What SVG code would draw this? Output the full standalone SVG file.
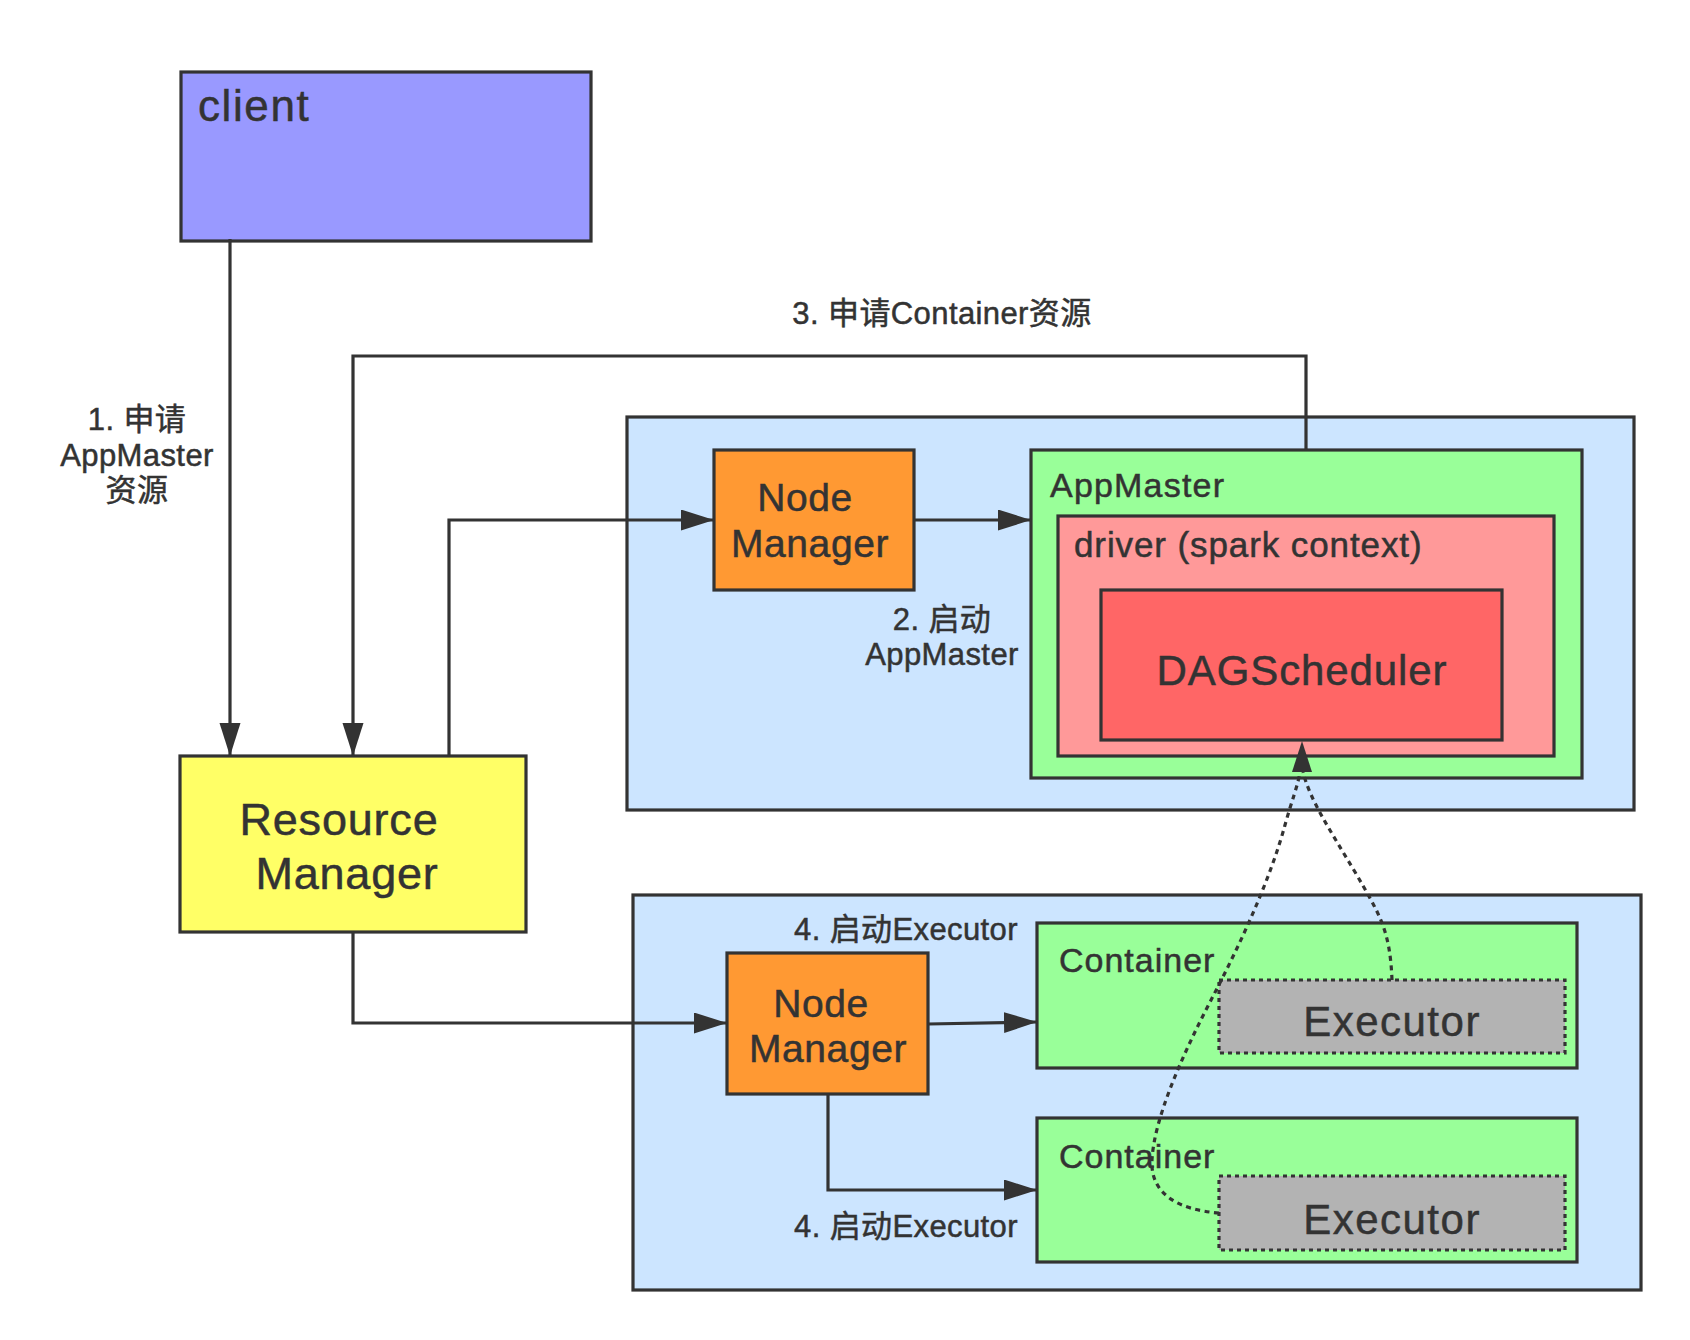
<svg xmlns="http://www.w3.org/2000/svg" width="1690" height="1340" viewBox="0 0 1690 1340">
<defs>
<style>
.box{stroke:#333333;stroke-width:3.2}
.t{font-family:"Liberation Sans","Noto Sans CJK SC",sans-serif;fill:#333333;stroke:#333333;stroke-width:0.5}
.c{text-anchor:middle}
.lbl{font-size:31px;letter-spacing:0.4px}
.line{fill:none;stroke:#333333;stroke-width:3.2}
.dash{fill:none;stroke:#333333;stroke-width:3.2;stroke-dasharray:5 4.5}
.exec{fill:#B3B3B3;stroke:#333333;stroke-width:3.2;stroke-dasharray:4 4}
</style>
<marker id="arr" markerUnits="userSpaceOnUse" markerWidth="34" markerHeight="22" refX="33" refY="10.5" orient="auto">
<path d="M0,0 L33,10.5 L0,21 Z" fill="#333333"/>
</marker>
</defs>
<rect width="1690" height="1340" fill="#FFFFFF"/>

<g id="host1">
<rect class="box" x="627" y="417" width="1007" height="393" fill="#CCE5FF"/>
</g>
<g id="host2">
<rect class="box" x="633" y="895" width="1008" height="395" fill="#CCE5FF"/>
</g>

<g id="client">
<rect class="box" x="181" y="72" width="410" height="169" fill="#9999FF"/>
<text class="t" x="198" y="121" font-size="44" letter-spacing="1.6">client</text>
</g>

<g id="resource-manager">
<rect class="box" x="180" y="756" width="346" height="176" fill="#FFFF66"/>
<text class="t c" x="339" y="835" font-size="45" letter-spacing="0.8">Resource</text>
<text class="t c" x="347" y="889" font-size="45" letter-spacing="0.8">Manager</text>
</g>

<g id="node-manager-1">
<rect class="box" x="714" y="450" width="200" height="140" fill="#FF9933"/>
<text class="t c" x="805" y="511" font-size="39" letter-spacing="0.6">Node</text>
<text class="t c" x="810" y="557" font-size="39" letter-spacing="0.6">Manager</text>
</g>

<g id="appmaster">
<rect class="box" x="1031" y="450" width="551" height="328" fill="#99FF99"/>
<text class="t" x="1050" y="497" font-size="34" letter-spacing="1.2">AppMaster</text>
</g>
<g id="driver">
<rect class="box" x="1058" y="516" width="496" height="240" fill="#FF9999"/>
<text class="t" x="1074" y="557" font-size="35" letter-spacing="0.9">driver (spark context)</text>
</g>
<g id="dagscheduler">
<rect class="box" x="1101" y="590" width="401" height="150" fill="#FF6666"/>
<text class="t c" x="1302" y="685" font-size="42" letter-spacing="0.9">DAGScheduler</text>
</g>

<g id="node-manager-2">
<rect class="box" x="727" y="953" width="201" height="141" fill="#FF9933"/>
<text class="t c" x="821" y="1017" font-size="39" letter-spacing="0.6">Node</text>
<text class="t c" x="828" y="1062" font-size="39" letter-spacing="0.6">Manager</text>
</g>

<g id="container-1">
<rect class="box" x="1037" y="923" width="540" height="145" fill="#99FF99"/>
<text class="t" x="1059" y="972" font-size="34" letter-spacing="1">Container</text>
</g>
<g id="executor-1">
<rect class="exec" x="1219" y="980" width="346" height="73"/>
<text class="t c" x="1392" y="1036" font-size="42" letter-spacing="1.5">Executor</text>
</g>

<g id="container-2">
<rect class="box" x="1037" y="1118" width="540" height="144" fill="#99FF99"/>
<text class="t" x="1059" y="1168" font-size="34" letter-spacing="1">Container</text>
</g>
<g id="executor-2">
<rect class="exec" x="1219" y="1176" width="346" height="74"/>
<text class="t c" x="1392" y="1234" font-size="42" letter-spacing="1.5">Executor</text>
</g>

<g id="connectors">
<path class="line" d="M230,239 V756" marker-end="url(#arr)"/>
<path class="line" d="M1306,450 V356 H353 V756" marker-end="url(#arr)"/>
<path class="line" d="M449,756 V520 H714" marker-end="url(#arr)"/>
<path class="line" d="M914,520 H1031" marker-end="url(#arr)"/>
<path class="line" d="M353,932 V1023 H727" marker-end="url(#arr)"/>
<path class="line" d="M928,1024 L1037,1022" marker-end="url(#arr)"/>
<path class="line" d="M828,1094 V1190 H1037" marker-end="url(#arr)"/>
<path class="dash" d="M1392,980 C1390,930 1380,915 1355,872 C1330,830 1310,800 1303,772"/>
<path class="dash" d="M1219,1213 C1180,1210 1150,1195 1152,1160 C1154,1120 1180,1060 1210,1002 C1240,945 1270,880 1285,825 C1292,800 1298,785 1300,772"/>
<polygon points="1302,741 1312,772 1292,772" fill="#333333"/>
</g>

<g id="labels">
<text class="t c lbl" x="137" y="430">1. 申请</text>
<text class="t c lbl" x="137" y="466">AppMaster</text>
<text class="t c lbl" x="137" y="501">资源</text>
<text class="t c lbl" x="942" y="324">3. 申请Container资源</text>
<text class="t c lbl" x="942" y="630">2. 启动</text>
<text class="t c lbl" x="942" y="665">AppMaster</text>
<text class="t c lbl" x="906" y="940">4. 启动Executor</text>
<text class="t c lbl" x="906" y="1237">4. 启动Executor</text>
</g>
</svg>
